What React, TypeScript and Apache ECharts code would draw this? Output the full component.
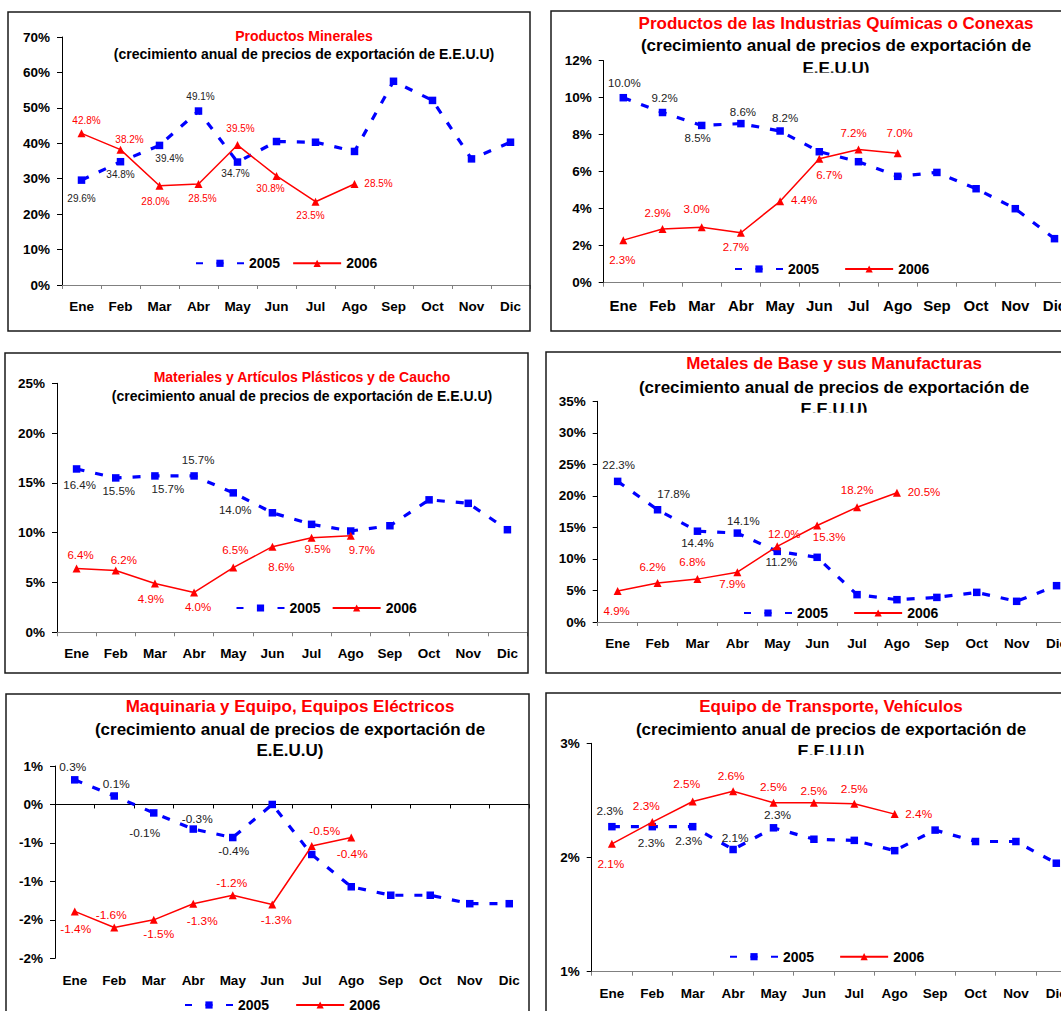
import React, { useEffect, useRef } from 'react';
import * as echarts from 'echarts';

const FONT = "Arial, 'Liberation Sans', Helvetica, sans-serif";

const months = ['Ene', 'Feb', 'Mar', 'Abr', 'May', 'Jun', 'Jul', 'Ago', 'Sep', 'Oct', 'Nov', 'Dic'];

// ---- data (annual growth, %) ----
const minerales2005 = [29.6, 34.8, 39.4, 49.1, 34.7, 40.5, 40.3, 37.7, 57.5, 52.1, 35.6, 40.3];
const minerales2006 = [42.8, 38.2, 28.0, 28.5, 39.5, 30.8, 23.5, 28.5];
const quimicos2005 = [10.0, 9.2, 8.5, 8.6, 8.2, 7.08, 6.54, 5.75, 5.96, 5.08, 4.0, 2.38];
const quimicos2006 = [2.3, 2.9, 3.0, 2.7, 4.4, 6.7, 7.2, 7.0];
const plasticos2005 = [16.4, 15.5, 15.7, 15.7, 14.0, 12.0, 10.84, 10.17, 10.7, 13.3, 12.95, 10.3];
const plasticos2006 = [6.4, 6.2, 4.9, 4.0, 6.5, 8.6, 9.5, 9.7];
const metales2005 = [22.3, 17.8, 14.4, 14.1, 11.2, 10.26, 4.34, 3.54, 3.9, 4.7, 3.28, 5.76];
const metales2006 = [4.9, 6.2, 6.8, 7.9, 12.0, 15.3, 18.2, 20.5];
const maquinaria2005 = [0.32, 0.11, -0.11, -0.32, -0.43, 0.0, -0.65, -1.07, -1.18, -1.18, -1.29, -1.29];
const maquinaria2006 = [-1.39, -1.6, -1.5, -1.29, -1.18, -1.3, -0.54, -0.43];
const transporte2005 = [2.27, 2.27, 2.27, 2.07, 2.26, 2.16, 2.15, 2.06, 2.24, 2.14, 2.14, 1.95];
const transporte2006 = [2.12, 2.31, 2.49, 2.58, 2.48, 2.48, 2.47, 2.38];

const subtitle = '(crecimiento anual de precios de exportación de E.E.U.U)';
const subtitleA = '(crecimiento anual de precios de exportación de';
const subtitleB = 'E.E.U.U)';

// ---- label placement (pixel offsets from the marker) ----
const off05 = [
  [[0, 18], [0, 13], [10, 13], [2, -15], [-2, 11]],
  [[1, -15], [2, -15], [-4, 13], [2, -12], [5, -13]],
  [[3, 16], [3, 13], [13, 13], [4, -16], [2, 17]],
  [[1, -16], [16, -16], [0, 12], [6, -12], [4, 11]],
  [[-2, -13], [2, -12], [-9, 20], [4, -10], [1, 13]],
  [[-2, -16], [-1, 16], [-4, 14], [2, -12], [4, -13]],
];
const off06 = [
  [[5, -13], [9, -10], [-4, 16], [4, 14], [3, -17], [-6, 13], [-5, 14], [24, -1]],
  [[-1, 20], [-5, -16], [-5, -18], [-5, 14], [24, -1], [10, 16], [-5, -17], [2, -20]],
  [[4, -14], [8, -11], [-4, 16], [4, 15], [2, -18], [9, 20], [6, 11], [11, 14]],
  [[-1, 20], [-5, -16], [-5, -17], [-5, 12], [7, -12], [12, 11], [0, -17], [27, -1]],
  [[1, 18], [-3, -13], [5, 14], [9, 17], [-1, -12], [4, 16], [13, -15], [1, 16]],
  [[-1, 20], [-6, -16], [-6, -18], [-2, -15], [0, -16], [0, -12], [0, -15], [24, 0]],
];

const pctInt = (v: number) => {
  const r = Math.sign(v) * Math.round(Math.abs(v));
  return (r === 0 ? 0 : r) + '%';
};

const PANELS = [
  {
    d05: minerales2005, d06: minerales2006,
    frame: [8, 12, 522, 319], grid: [62, 37, 468, 248],
    y: [0, 70, 10], title: 'Productos Minerales', sub: [subtitle], tSize: 14,
    cx: 304, ty: [36, 54.3], clip: null,
    legend: [195, 263.3], legendGap: 12, xFont: 13.5, xMargin: 14, lblFont: 10, zero: false,
  },
  {
    d05: quimicos2005, d06: quimicos2006,
    frame: [551, 11, 530, 320], grid: [603.7, 60.7, 470.4, 222],
    y: [0, 12, 2], title: 'Productos de las Industrias Químicas o Conexas', sub: [subtitleA, subtitleB], tSize: 17,
    cx: 836, ty: [23.3, 45, 68], clip: [790, 72.8, 100, 8],
    legend: [734, 269], legendGap: 25, xFont: 15, xMargin: 15, lblFont: 11.5, zero: false,
  },
  {
    d05: plasticos2005, d06: plasticos2006,
    frame: [5, 353, 523, 320], grid: [57, 383.3, 470, 249],
    y: [0, 25, 5], title: 'Materiales y Artículos Plásticos y de Caucho', sub: [subtitle], tSize: 14,
    cx: 302, ty: [377.3, 396.3], clip: null,
    legend: [235.5, 608], legendGap: 11, xFont: 13.5, xMargin: 14, lblFont: 11.5, zero: false,
  },
  {
    d05: metales2005, d06: metales2006,
    frame: [546, 352, 530, 321], grid: [597.7, 401.3, 478.8, 220.7],
    y: [0, 35, 5], title: 'Metales de Base y sus Manufacturas', sub: [subtitleA, subtitleB], tSize: 17,
    cx: 834, ty: [363.7, 387, 409.3], clip: [788, 412.8, 100, 8],
    legend: [743, 613], legendGap: 25, xFont: 13.5, xMargin: 14, lblFont: 11.5, zero: false,
  },
  {
    d05: maquinaria2005, d06: maquinaria2006,
    frame: [6, 694, 523, 330], grid: [55, 766, 474, 192.3],
    y: [-2, 0.5, 0.5], title: 'Maquinaria y Equipo, Equipos Eléctricos', sub: [subtitleA, subtitleB], tSize: 17,
    cx: 290, ty: [706.7, 729, 750], clip: null,
    legend: [184, 1005], legendGap: 26, xFont: 13.5, xMargin: 15, lblFont: 11.8, zero: true,
  },
  {
    d05: transporte2005, d06: transporte2006,
    frame: [546, 693, 530, 330], grid: [591.7, 743.3, 484.8, 228.4],
    y: [1, 3, 1], title: 'Equipo de Transporte, Vehículos', sub: [subtitleA, subtitleB], tSize: 17,
    cx: 831, ty: [706, 729.3, 751.3], clip: [785, 755, 100, 8],
    legend: [729, 956.7], legendGap: 25, xFont: 13.5, xMargin: 14.5, lblFont: 11.8, zero: false,
  },
];

function buildOption() {
  const grid: any[] = [];
  const xAxis: any[] = [];
  const yAxis: any[] = [];
  const series: any[] = [];
  const legend: any[] = [];
  const graphic: any[] = [];

  PANELS.forEach((p, i) => {
    grid.push({ left: p.grid[0], top: p.grid[1], width: p.grid[2], height: p.grid[3], containLabel: false });
    const labelStyle = {
      interval: 0, margin: p.xMargin, fontSize: p.xFont, fontWeight: 'bold', color: '#000', fontFamily: FONT,
    };
    const xi = xAxis.length;
    xAxis.push({
      type: 'category', gridIndex: i, data: months, boundaryGap: true, position: 'bottom',
      axisLine: { show: true, onZero: p.zero, lineStyle: { color: p.zero ? '#000' : '#808080', width: 1 } },
      axisTick: { show: true, length: 4, lineStyle: { color: p.zero ? '#000' : '#808080' } },
      axisLabel: { show: !p.zero, ...labelStyle },
      splitLine: { show: false },
    });
    if (p.zero) {
      xAxis.push({
        type: 'category', gridIndex: i, data: months, boundaryGap: true, position: 'bottom',
        axisLine: { show: false, onZero: false }, axisTick: { show: false },
        axisLabel: { show: true, ...labelStyle }, splitLine: { show: false },
      });
    }
    yAxis.push({
      type: 'value', gridIndex: i, min: p.y[0], max: p.y[1], interval: p.y[2],
      axisLine: { show: true, lineStyle: { color: '#000', width: 1 } },
      axisTick: { show: true, length: 5, lineStyle: { color: '#000' } },
      splitLine: { show: false },
      axisLabel: { formatter: pctInt, fontSize: 13.5, fontWeight: 'bold', color: '#000', fontFamily: FONT, margin: 12 },
    });

    const fmt = (o: any) => Number(o.value).toFixed(1) + '%';
    series.push({
      type: 'line', name: '2005', xAxisIndex: xi, yAxisIndex: i,
      data: p.d05.map((v, k) => ({
        value: v,
        label: k < off05[i].length ? { show: true, position: 'inside', offset: off05[i][k] } : { show: false },
      })),
      symbol: 'rect', symbolSize: 7.5, showAllSymbol: true,
      lineStyle: { color: '#0000FF', width: 3.2, type: [8, 11] },
      itemStyle: { color: '#0000FF' },
      label: { show: false, fontSize: p.lblFont, color: '#222', fontFamily: FONT, formatter: fmt },
      emphasis: { disabled: true }, silent: true, z: 3,
    });
    series.push({
      type: 'line', name: '2006', xAxisIndex: xi, yAxisIndex: i,
      data: p.d06.map((v, k) => ({
        value: v,
        label: { show: true, position: 'inside', offset: off06[i][k] },
      })),
      symbol: 'triangle', symbolSize: 8, showAllSymbol: true,
      lineStyle: { color: '#FF0000', width: 1.5 },
      itemStyle: { color: '#FF0000' },
      label: { show: true, fontSize: p.lblFont, color: '#FF0000', fontFamily: FONT, formatter: fmt },
      emphasis: { disabled: true }, silent: true, z: 4,
    });

    legend.push({
      left: p.legend[0], top: p.legend[1] - 7, orient: 'horizontal', padding: 0,
      itemWidth: 48, itemHeight: 9, itemGap: p.legendGap, selectedMode: false,
      data: [{ name: '2005', lineStyle: { type: [7, 13.5] } }, { name: '2006' }],
      textStyle: { fontSize: 14, fontWeight: 'bold', color: '#000', fontFamily: FONT },
    });

    graphic.push({
      type: 'rect', z: 1, silent: true,
      shape: { x: p.frame[0], y: p.frame[1], width: p.frame[2], height: p.frame[3] },
      style: { fill: 'none', stroke: '#1a1a1a', lineWidth: 1.5 },
    });
    const lines = [p.title, ...p.sub];
    lines.forEach((t, k) => {
      graphic.push({
        type: 'text', z: 5, silent: true, x: p.cx, y: p.ty[k],
        style: {
          text: t, fill: k === 0 ? '#FF0000' : '#000', font: `bold ${p.tSize}px ${FONT}`,
          textAlign: 'center', textVerticalAlign: 'middle',
        },
      });
    });
    if (p.clip) {
      graphic.push({
        type: 'rect', z: 6, silent: true,
        shape: { x: p.clip[0], y: p.clip[1], width: p.clip[2], height: p.clip[3] },
        style: { fill: '#fff', stroke: 'none' },
      });
    }
  });

  return {
    animation: false,
    backgroundColor: '#fff',
    textStyle: { fontFamily: FONT },
    grid, xAxis, yAxis, series, legend, graphic,
  };
}

export default function App() {
  const ref = useRef<HTMLDivElement>(null);
  useEffect(() => {
    if (!ref.current) return;
    const chart = echarts.init(ref.current, undefined, { renderer: 'svg' });
    chart.setOption(buildOption() as any);
    return () => chart.dispose();
  }, []);
  return (
    <div style={{ position: 'fixed', left: 0, top: 0, width: 1061, height: 1011, overflow: 'hidden', background: '#fff' }}>
      <div ref={ref} style={{ width: 1100, height: 1040 }} />
    </div>
  );
}
